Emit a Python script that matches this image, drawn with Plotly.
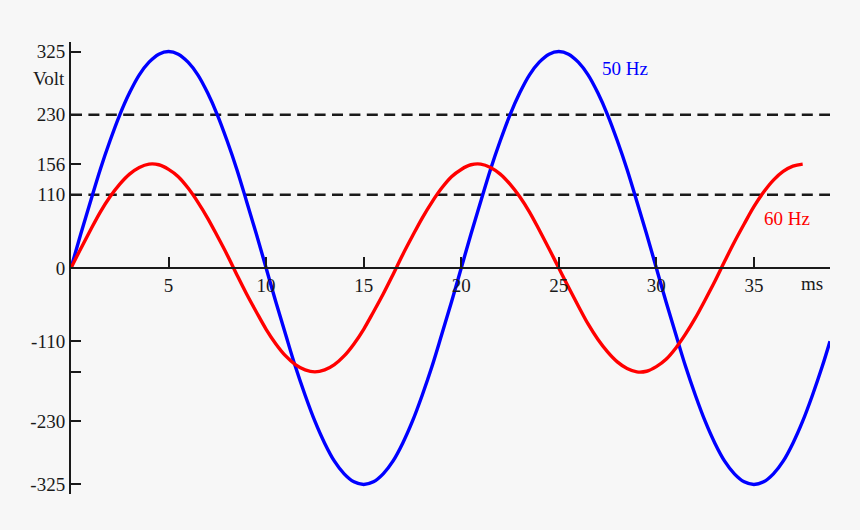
import plotly.graph_objects as go

# time in ms, voltage in V (0.5 ms steps)
t_50 = [0, 0.5, 1, 1.5, 2, 2.5, 3, 3.5, 4, 4.5, 5, 5.5, 6, 6.5, 7, 7.5, 8, 8.5, 9, 9.5,
        10, 10.5, 11, 11.5, 12, 12.5, 13, 13.5, 14, 14.5, 15, 15.5, 16, 16.5, 17, 17.5, 18, 18.5, 19, 19.5,
        20, 20.5, 21, 21.5, 22, 22.5, 23, 23.5, 24, 24.5, 25, 25.5, 26, 26.5, 27, 27.5, 28, 28.5, 29, 29.5,
        30, 30.5, 31, 31.5, 32, 32.5, 33, 33.5, 34, 34.5, 35, 35.5, 36, 36.5, 37, 37.5, 38, 38.5, 38.9]
v_50 = [0, 51, 100, 148, 191, 230, 263, 290, 309, 321, 325, 321, 309, 290, 263, 230, 191, 148, 100, 51,
        0, -51, -100, -148, -191, -230, -263, -290, -309, -321, -325, -321, -309, -290, -263, -230, -191, -148, -100, -51,
        0, 51, 100, 148, 191, 230, 263, 290, 309, 321, 325, 321, 309, 290, 263, 230, 191, 148, 100, 51,
        0, -51, -100, -148, -191, -230, -263, -290, -309, -321, -325, -321, -309, -290, -263, -230, -191, -148, -110]

t_60 = [0, 0.5, 1, 1.5, 2, 2.5, 3, 3.5, 4, 4.5, 5, 5.5, 6, 6.5, 7, 7.5, 8, 8.5, 9, 9.5,
        10, 10.5, 11, 11.5, 12, 12.5, 13, 13.5, 14, 14.5, 15, 15.5, 16, 16.5, 17, 17.5, 18, 18.5, 19, 19.5,
        20, 20.5, 21, 21.5, 22, 22.5, 23, 23.5, 24, 24.5, 25, 25.5, 26, 26.5, 27, 27.5, 28, 28.5, 29, 29.5,
        30, 30.5, 31, 31.5, 32, 32.5, 33, 33.5, 34, 34.5, 35, 35.5, 36, 36.5, 37, 37.5]
v_60 = [0, 29, 57, 84, 107, 126, 141, 151, 156, 155, 148, 137, 120, 99, 75, 48, 20, -10, -39, -66,
        -92, -114, -132, -145, -153, -156, -153, -145, -132, -114, -92, -66, -39, -10, 20, 48, 75, 99, 120, 137,
        148, 155, 156, 151, 141, 126, 107, 84, 57, 29, 0, -29, -57, -84, -107, -126, -141, -151, -156, -155,
        -148, -137, -120, -99, -75, -48, -20, 10, 39, 66, 92, 114, 132, 145, 153, 156]

ref_levels = [230, 110]
x_end = 38.9

y_ticks = [325, 230, 156, 110, 0, -110, -156, -230, -325]
y_labels = ["325", "230", "156", "110", "0", "-110", "", "-230", "-325"]
x_ticks = [5, 10, 15, 20, 25, 30, 35]

font = "Liberation Serif"
ink = "#1a1a1a"
bg = "#f7f7f7"

fig = go.Figure()

for lvl in ref_levels:
    fig.add_trace(go.Scatter(x=[0, x_end], y=[lvl, lvl], mode="lines",
                             line=dict(color=ink, width=2.5, dash="11px,6.4px"),
                             hoverinfo="skip"))

fig.add_trace(go.Scatter(x=t_50, y=v_50, mode="lines", name="50 Hz",
                         line=dict(color="#0000ff", width=3.4, shape="spline")))
fig.add_trace(go.Scatter(x=t_60, y=v_60, mode="lines", name="60 Hz",
                         line=dict(color="#ff0000", width=3.4, shape="spline")))

fig.add_annotation(x=28.4, y=300, text="50 Hz", showarrow=False,
                   font=dict(family=font, size=19, color="#0000ff"))
fig.add_annotation(x=36.7, y=74, text="60 Hz", showarrow=False,
                   font=dict(family=font, size=19, color="#ff0000"))
fig.add_annotation(x=0, y=284, text="Volt", showarrow=False, xanchor="right",
                   xshift=-4, font=dict(family=font, size=19, color=ink))
fig.add_annotation(x=38.0, y=-24, text="ms", showarrow=False,
                   font=dict(family=font, size=19, color=ink))

fig.update_layout(
    width=860, height=530,
    margin=dict(l=71, r=30, t=42, b=36),
    paper_bgcolor=bg, plot_bgcolor=bg,
    showlegend=False,
    font=dict(family=font, size=19, color=ink),
    xaxis=dict(range=[0, x_end], tickvals=x_ticks, ticks="inside", ticklen=10,
               tickwidth=2, tickcolor=ink, showline=True, linewidth=2, linecolor=ink,
               showgrid=False, zeroline=False, anchor="free", position=0.5),
    yaxis=dict(range=[-339.3, 339.3], tickvals=y_ticks, ticktext=y_labels,
               ticks="inside", ticklen=10, tickwidth=2, tickcolor=ink,
               showline=True, linewidth=2, linecolor=ink,
               showgrid=False, zeroline=False),
)

# page has a default 8px body margin; drop it so the chart fills the window
fig.write_html("out.html", config={"displayModeBar": False},
               post_script="document.body.style.margin='0';document.body.style.background='%s';" % bg)
